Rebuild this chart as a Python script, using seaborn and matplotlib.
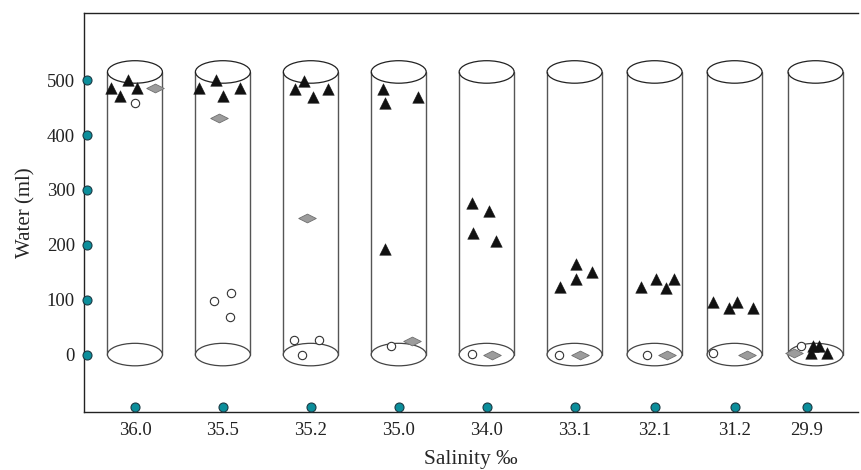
import pandas as pd
import matplotlib.pyplot as plt
import seaborn as sns
from matplotlib.patches import Ellipse

# salinity of each tube and the y ticks
salinity = ["36.0", "35.5", "35.2", "35.0", "34.0", "33.1", "32.1", "31.2", "29.9"]
water_ticks = [0, 100, 200, 300, 400, 500]

# tube positions along x (ticks are not evenly spaced)
tick_x = [0, 1, 2, 3, 4, 5, 5.91, 6.82, 7.64]
tube_x = [0, 1, 2, 3, 4, 5, 5.91, 6.82, 7.74]
tube_top = 515

# black triangles: tube index, offset in tube, water level (ml)
tri_tube = [0, 0, 0, 0, 1, 1, 1, 1, 2, 2, 2, 2, 3, 3, 3, 3, 4, 4, 4, 4,
            5, 5, 5, 5, 6, 6, 6, 6, 7, 7, 7, 7, 8, 8, 8, 8]
tri_dx = [-0.27, -0.17, -0.08, 0.02, -0.27, -0.08, 0.0, 0.2,
          -0.18, -0.08, 0.02, 0.2, -0.18, -0.16, 0.22, -0.16,
          -0.17, 0.03, -0.16, 0.11, -0.17, 0.02, 0.02, 0.2,
          -0.15, 0.02, 0.125, 0.22, -0.25, -0.06, 0.03, 0.21,
          0.07, 0.14, 0.05, 0.23]
tri_ml = [485, 471, 500, 485, 485, 500, 471, 485,
          484, 498, 469, 484, 484, 458, 469, 193,
          276, 262, 222, 207, 124, 165, 138, 151,
          123, 137, 121, 137, 96, 85, 96, 85,
          15, 15, 2, 2]

# open circles
circ_tube = [0, 1, 1, 1, 2, 2, 2, 3, 4, 5, 6, 7, 8]
circ_dx = [0.0, -0.1, 0.09, 0.08, -0.19, 0.09, -0.1, -0.09, -0.17, -0.18, -0.09, -0.25, -0.06]
circ_ml = [458, 97, 112, 68, 26, 26, 0, 15, 1, 0, 0, 2, 15]

# grey diamonds
dia_tube = [0, 1, 2, 3, 4, 5, 6, 7, 8]
dia_dx = [0.23, -0.045, -0.045, 0.15, 0.06, 0.06, 0.14, 0.14, -0.14]
dia_ml = [485, 431, 249, 25, 0, 0, 0, 0, 3]


def to_frame(tube, dx, ml):
    return pd.DataFrame({"x": [tick_x[t] + d for t, d in zip(tube, dx)], "ml": ml})


tri_df = to_frame(tri_tube, tri_dx, tri_ml)
circ_df = to_frame(circ_tube, circ_dx, circ_ml)
dia_df = to_frame(dia_tube, dia_dx, dia_ml)

sns.set_style("ticks")
plt.rcParams["font.family"] = ["Liberation Serif", "DejaVu Serif"]

fig = plt.figure(figsize=(8.62, 4.70), dpi=100)
ax = fig.add_axes([0.098, 0.123, 0.897, 0.85])
ax.set_xlim(-0.574, 8.22)
ax.set_ylim(-105, 623)

# draw the tubes
half_w = 0.3125
ell_h = 41
for cx in tube_x:
    for side in (-half_w, half_w):
        ax.plot([cx + side, cx + side], [0, tube_top], color="#555555", lw=1.0, zorder=1)
    ax.add_patch(Ellipse((cx, tube_top), 2 * half_w, ell_h, fill=False,
                         edgecolor="#222222", lw=0.9, zorder=1))
    ax.add_patch(Ellipse((cx, 0), 2 * half_w, ell_h, facecolor="white",
                         edgecolor="#444444", lw=0.9, zorder=1))

# data points
sns.scatterplot(data=circ_df, x="x", y="ml", marker="o", s=36, color="white",
                edgecolor="#333333", linewidth=0.8, ax=ax, zorder=3)
diamond = [(-1, 0), (0, 0.5), (1, 0), (0, -0.5), (-1, 0)]
sns.scatterplot(data=dia_df, x="x", y="ml", marker=diamond, s=160, color="#9c9c9c",
                edgecolor="#6f6f6f", linewidth=0.6, ax=ax, zorder=4)
sns.scatterplot(data=tri_df, x="x", y="ml", marker="^", s=70, color="#111111",
                edgecolor="#111111", linewidth=0.3, ax=ax, zorder=5)

# teal dots on both axes
sns.scatterplot(x=[-0.542] * len(water_ticks), y=water_ticks, s=42, color="#0b8e9b",
                edgecolor="#1b3a44", linewidth=0.8, ax=ax, zorder=6, clip_on=False)
sns.scatterplot(x=tick_x, y=[-96] * len(tick_x), s=42, color="#0b8e9b",
                edgecolor="#1b3a44", linewidth=0.8, ax=ax, zorder=6, clip_on=False)

ax.set_xticks(tick_x)
ax.set_xticklabels(salinity)
ax.set_yticks(water_ticks)
ax.tick_params(length=0, labelsize=13.5, pad=7, colors="#222222")
ax.set_xlabel("Salinity \u2030", fontsize=15.5, labelpad=8)
ax.set_ylabel("Water (ml)", fontsize=15, labelpad=8)

ax.spines["right"].set_visible(False)
for s in ("left", "bottom", "top"):
    ax.spines[s].set_color("#222222")
    ax.spines[s].set_linewidth(1.0)

fig.savefig("out.png", dpi=100)
